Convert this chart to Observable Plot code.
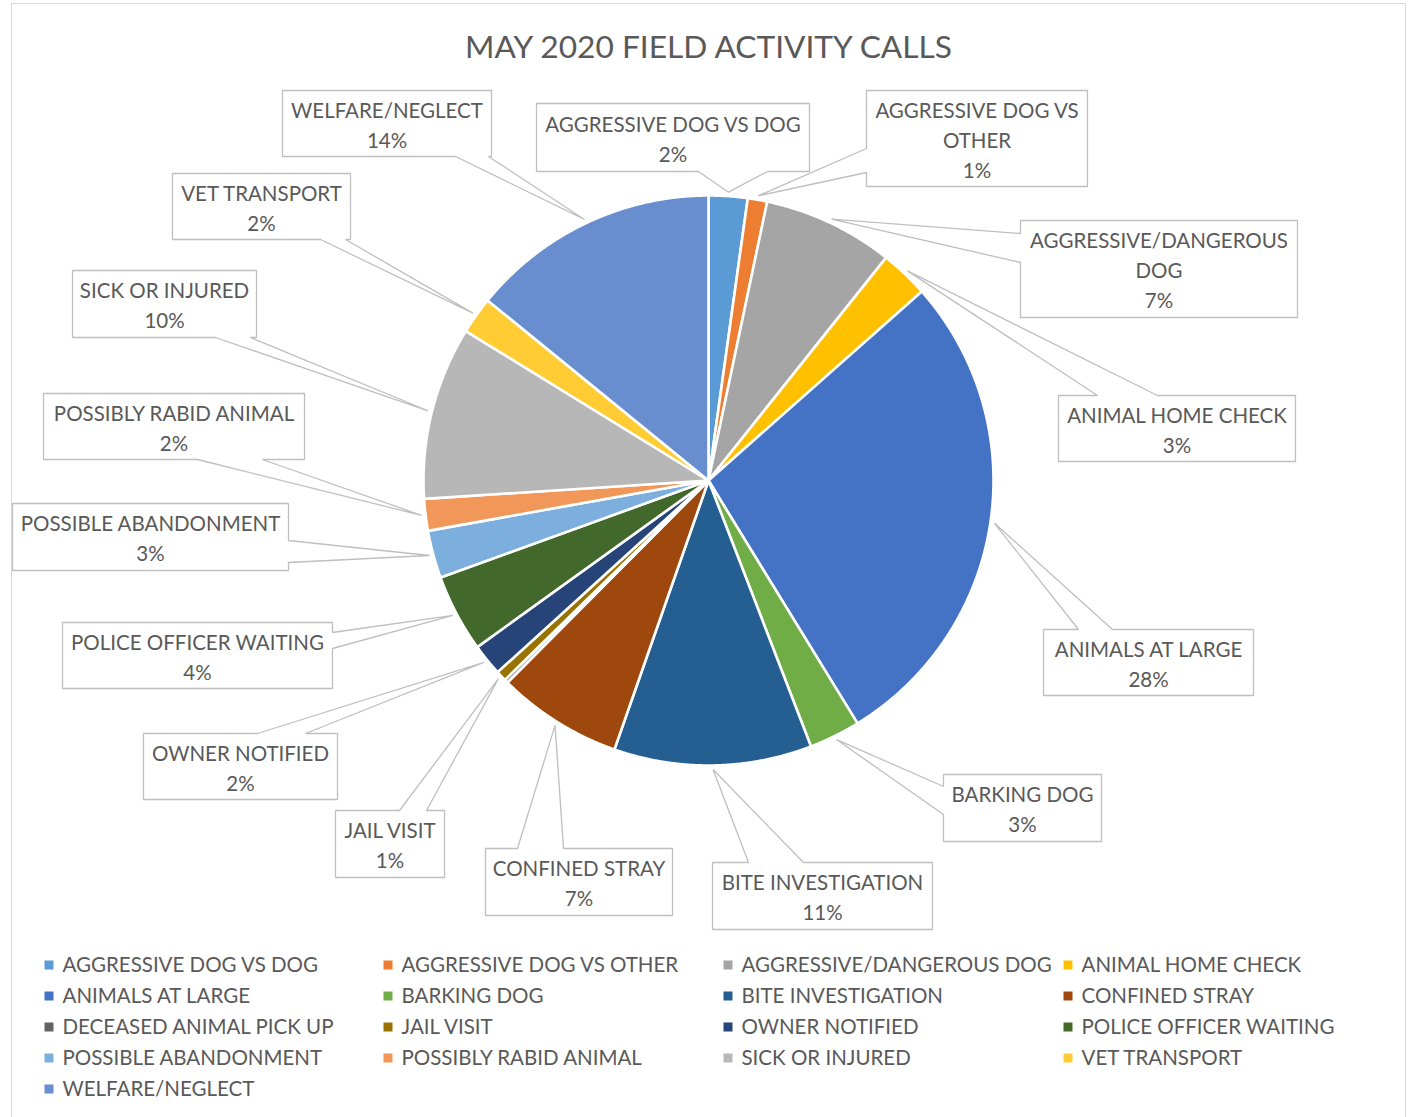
<!DOCTYPE html>
<html><head><meta charset="utf-8">
<script src="https://cdn.jsdelivr.net/npm/d3@7"></script>
<script src="https://cdn.jsdelivr.net/npm/@observablehq/plot@0.6"></script>
<style>
body{margin:0;background:#fff;}
#chart{position:absolute;left:0;top:0;}
#frame{position:absolute;left:11px;top:3px;width:1395px;height:1122px;border:1.5px solid #d9d9d9;box-sizing:border-box;pointer-events:none;}
</style></head><body>
<div id="chart"></div><div id="frame"></div>
<script>
// ---------- data ----------
const categories = ["AGGRESSIVE DOG VS DOG","AGGRESSIVE DOG VS OTHER","AGGRESSIVE/DANGEROUS DOG","ANIMAL HOME CHECK","ANIMALS AT LARGE","BARKING DOG","BITE INVESTIGATION","CONFINED STRAY","DECEASED ANIMAL PICK UP","JAIL VISIT","OWNER NOTIFIED","POLICE OFFICER WAITING","POSSIBLE ABANDONMENT","POSSIBLY RABID ANIMAL","SICK OR INJURED","VET TRANSPORT","WELFARE/NEGLECT"];
const values = [2.2,1.1,7.4,2.75,27.75,2.9,11.2,7.1,0.2,0.6,1.8,4.4,2.7,1.8,9.8,2.1,14.1];
const colors = ["#5B9BD5","#ED7D31","#A5A5A5","#FFC000","#4472C4","#70AD47","#255E91","#9E480E","#636363","#997300","#264478","#43682B","#7CAFDD","#F1975A","#B7B7B7","#FFCD33","#698ED0"];
const chartTitle = "MAY 2020 FIELD ACTIVITY CALLS";

// ---------- layout ----------
const W = 1412, H = 1117;
const pieLayout = {cx: 708, cy: 480, r: 285, tipGap: 4};
const calloutLayout = [
  {cat:"AGGRESSIVE DOG VS DOG", box:[536,103,809,171], side:"bottom", base:[698,767]},
  {cat:"AGGRESSIVE DOG VS OTHER", box:[866,90,1087,186], side:"left", base:[148,172], brk:3},
  {cat:"AGGRESSIVE/DANGEROUS DOG", box:[1020,220,1297,317], side:"left", base:[233,262], brk:1},
  {cat:"ANIMAL HOME CHECK", box:[1058,395,1295,461], side:"top", base:[1097,1157]},
  {cat:"ANIMALS AT LARGE", box:[1043,629,1253,695], side:"top", base:[1078,1112]},
  {cat:"BARKING DOG", box:[943,774,1101,841], side:"left", base:[786,814]},
  {cat:"BITE INVESTIGATION", box:[712,862,932,929], side:"top", base:[748,803]},
  {cat:"CONFINED STRAY", box:[485,848,672,915], side:"top", base:[517,563]},
  {cat:"JAIL VISIT", box:[335,810,444,877], side:"top", base:[399,426]},
  {cat:"OWNER NOTIFIED", box:[143,733,337,799], side:"top", base:[257,305]},
  {cat:"POLICE OFFICER WAITING", box:[62,622,332,688], side:"right", base:[632,648]},
  {cat:"POSSIBLE ABANDONMENT", box:[12,503,288,570], side:"right", base:[540,562]},
  {cat:"POSSIBLY RABID ANIMAL", box:[43,393,304,459], side:"bottom", base:[197,262]},
  {cat:"SICK OR INJURED", box:[72,270,256,337], side:"bottom", base:[215,250]},
  {cat:"VET TRANSPORT", box:[172,173,350,239], side:"bottom", base:[320,345]},
  {cat:"WELFARE/NEGLECT", box:[282,90,491,156], side:"bottom", base:[455,488]}
];
const legendLayout = {textX:[62,401,741,1081], y0:965, dy:31, sq:9, sqOffset:13};
const FONT = "Lato, 'Open Sans', sans-serif";
const TEXT = "#595959";

// ---------- derived geometry ----------
const total = d3.sum(values);
const slices = [];
let acc = 0;
categories.forEach((c, i) => {
  const a0 = acc / total * 2 * Math.PI;
  acc += values[i];
  const a1 = acc / total * 2 * Math.PI;
  slices.push({cat: c, a0, a1, mid: (a0 + a1) / 2, pct: Math.round(values[i] / total * 100)});
});
const pt = (a, r) => [pieLayout.cx + r * Math.sin(a), pieLayout.cy - r * Math.cos(a)];

const pieRows = [];
slices.forEach(s => {
  pieRows.push({cat: s.cat, x: pieLayout.cx, y: pieLayout.cy});
  const n = Math.max(2, Math.ceil((s.a1 - s.a0) / 0.004));
  for (let k = 0; k <= n; k++) {
    const [x, y] = pt(s.a0 + (s.a1 - s.a0) * k / n, pieLayout.r);
    pieRows.push({cat: s.cat, x, y});
  }
});

const bySlice = new Map(slices.map(s => [s.cat, s]));
const calloutRows = [];
const calloutText = [];
calloutLayout.forEach((c, idx) => {
  const s = bySlice.get(c.cat);
  const tip = pt(s.mid, pieLayout.r + pieLayout.tipGap);
  const [x1, y1, x2, y2] = c.box, [a, b] = c.base;
  const pts = [[x1, y1]];
  if (c.side === "top") pts.push([a, y1], tip, [b, y1]);
  pts.push([x2, y1]);
  if (c.side === "right") pts.push([x2, a], tip, [x2, b]);
  pts.push([x2, y2]);
  if (c.side === "bottom") pts.push([b, y2], tip, [a, y2]);
  pts.push([x1, y2]);
  if (c.side === "left") pts.push([x1, b], tip, [x1, a]);
  pts.forEach(([x, y]) => calloutRows.push({id: idx, x, y}));
  const words = c.cat.split(" ");
  const nameLines = c.brk ? [words.slice(0, c.brk).join(" "), words.slice(c.brk).join(" ")] : [c.cat];
  calloutText.push({x: (x1 + x2) / 2, y: (y1 + y2) / 2 - 0.5, text: [...nameLines, s.pct + "%"].join("\n")});
});

const legendRows = categories.map((c, i) => {
  const col = i % 4, row = Math.floor(i / 4);
  const tx = legendLayout.textX[col];
  const y = legendLayout.y0 + row * legendLayout.dy;
  const sx = tx - legendLayout.sqOffset;
  return {cat: c, tx, y, x1: sx - legendLayout.sq / 2, x2: sx + legendLayout.sq / 2, y1: y - legendLayout.sq / 2, y2: y + legendLayout.sq / 2};
});

const chart = Plot.plot({
  width: W, height: H, margin: 0,
  x: {domain: [0, W], range: [0, W], axis: null},
  y: {domain: [0, H], range: [0, H], axis: null},
  color: {domain: categories, range: colors},
  style: {fontFamily: FONT, background: "transparent"},
  marks: [
    Plot.text([chartTitle], {x: () => 708, y: () => 47, text: d => d, fontSize: 31.7, fill: TEXT, textAnchor: "middle", fontFamily: FONT}),
    Plot.line(pieRows, {x: "x", y: "y", z: "cat", fill: "cat", stroke: "white", strokeWidth: 2.6, curve: "linear-closed", strokeLinejoin: "round"}),
    Plot.line(calloutRows, {x: "x", y: "y", z: "id", fill: "white", stroke: "#BFBFBF", strokeWidth: 1.3, curve: "linear-closed", strokeLinejoin: "miter"}),
    Plot.text(calloutText, {x: "x", y: "y", text: "text", fontSize: 20.5, lineHeight: 1.46, fill: TEXT, textAnchor: "middle", fontFamily: FONT}),
    Plot.rect(legendRows, {x1: "x1", x2: "x2", y1: "y1", y2: "y2", fill: "cat"}),
    Plot.text(legendRows, {x: "tx", y: "y", text: "cat", fontSize: 20.5, fill: TEXT, textAnchor: "start", fontFamily: FONT})
  ]
});
document.getElementById("chart").appendChild(chart);
</script>
</body></html>
